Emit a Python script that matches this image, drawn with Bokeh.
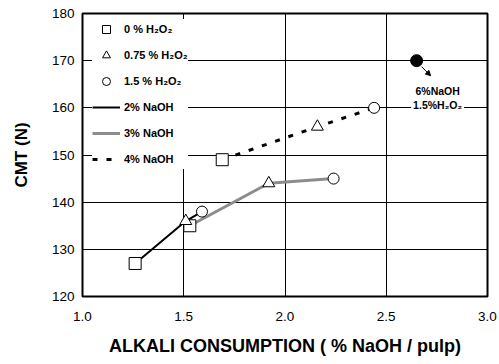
from bokeh.plotting import figure
from bokeh.models import (Range1d, FixedTicker, PrintfTickFormatter, Legend, LegendItem,
                          Label, Arrow, NormalHead)
from bokeh.embed import file_html
from bokeh.resources import INLINE

# ---- data ----
naoh_labels = ["2% NaOH", "3% NaOH", "4% NaOH"]
h2o2_labels = ["0 % H\u2082O\u2082", "0.75 % H\u2082O\u2082", "1.5 % H\u2082O\u2082"]

naoh2_x = [1.26, 1.51, 1.59]
naoh2_y = [127, 136, 138]
naoh3_x = [1.53, 1.92, 2.24]
naoh3_y = [135, 144, 145]
naoh4_x = [1.69, 2.16, 2.44]
naoh4_y = [149, 156, 160]

special_x = [2.65]
special_y = [170]
special_label = ["6%NaOH", "1.5%H\u2082O\u2082"]

x_ticks = [1.0, 1.5, 2.0, 2.5, 3.0]
y_ticks = [120, 130, 140, 150, 160, 170, 180]

FONT = "Liberation Sans"

p = figure(width=499, height=364, output_backend="svg", toolbar_location=None,
           x_range=Range1d(1.0, 3.0), y_range=Range1d(120, 180),
           min_border_left=82, min_border_right=12, min_border_top=13, min_border_bottom=68)
p.background_fill_color = "white"
p.border_fill_color = "white"
p.outline_line_color = "black"
p.outline_line_width = 2

for ax in (p.xaxis[0], p.yaxis[0]):
    ax.axis_line_color = None
    ax.major_tick_line_color = None
    ax.minor_tick_line_color = None
    ax.major_tick_out = 0
    ax.major_tick_in = 0
    ax.minor_tick_out = 0
    ax.major_label_text_font = FONT
    ax.major_label_text_font_size = "13.5px"
    ax.major_label_text_color = "black"
    ax.axis_label_text_font = FONT
    ax.axis_label_text_font_style = "bold"
    ax.axis_label_text_color = "black"

p.xaxis.ticker = FixedTicker(ticks=x_ticks)
p.xaxis.formatter = PrintfTickFormatter(format="%.1f")
p.yaxis.ticker = FixedTicker(ticks=y_ticks)
p.yaxis.formatter = PrintfTickFormatter(format="%d")
p.xaxis.axis_label = "ALKALI CONSUMPTION ( % NaOH / pulp)"
p.yaxis.axis_label = "CMT (N)"
p.xaxis.axis_label_text_font_size = "18px"
p.yaxis.axis_label_text_font_size = "17px"
p.xaxis.major_label_standoff = 15
p.xaxis.axis_label_standoff = 12
p.yaxis.major_label_standoff = 8
p.yaxis.axis_label_standoff = 18

p.xgrid.ticker = FixedTicker(ticks=x_ticks)
p.ygrid.ticker = FixedTicker(ticks=y_ticks)
for g in (p.xgrid[0], p.ygrid[0]):
    g.grid_line_color = "black"
    g.grid_line_width = 1

# ---- lines ----
l2 = p.line(naoh2_x, naoh2_y, line_color="black", line_width=2)
l3 = p.line(naoh3_x, naoh3_y, line_color="#8c8c8c", line_width=3)
l4 = p.line(naoh4_x, naoh4_y, line_color="black", line_width=3, line_dash="5 9")

# ---- markers by H2O2 level (index 0, 1, 2 of each series) ----
all_x = [naoh2_x, naoh3_x, naoh4_x]
all_y = [naoh2_y, naoh3_y, naoh4_y]
markers = ["square", "triangle", "circle"]
sizes = [12, 12, 11]
mk_renderers = []
for i, (m, s) in enumerate(zip(markers, sizes)):
    xs = [sx[i] for sx in all_x]
    ys = [sy[i] for sy in all_y]
    r = p.scatter(xs, ys, marker=m, size=s, fill_color="white", line_color="black", line_width=1)
    mk_renderers.append(r)

p.scatter(special_x, special_y, marker="circle", size=12, fill_color="black", line_color="black")

# ---- legend ----
items = [LegendItem(label=h2o2_labels[i], renderers=[mk_renderers[i]]) for i in range(3)]
items += [LegendItem(label=naoh_labels[0], renderers=[l2]),
          LegendItem(label=naoh_labels[1], renderers=[l3]),
          LegendItem(label=naoh_labels[2], renderers=[l4])]
legend = Legend(items=items, location=(10, 127), margin=0, padding=3,
                spacing=6, glyph_height=20, label_height=20, glyph_width=28,
                label_standoff=4, border_line_color=None,
                background_fill_color="white", background_fill_alpha=1.0,
                label_text_font=FONT, label_text_font_style="bold",
                label_text_font_size="11px", label_text_color="black")
p.add_layout(legend)

# ---- annotation for special point ----
dxp = 2.0 / 405.0
dyp = 60.0 / 282.0
sx0, sy0 = special_x[0], special_y[0]
p.add_layout(Arrow(x_start=sx0 + 5 * dxp, y_start=sy0 - 6 * dyp,
                   x_end=sx0 + 14 * dxp, y_end=sy0 - 15 * dyp,
                   line_color="black", line_width=1,
                   end=NormalHead(size=5, fill_color="black", line_color="black")))
lab2 = Label(x=sx0, y=sy0, x_offset=21, y_offset=-44, text=special_label[1],
             text_align="center", text_baseline="middle", text_font=FONT,
             text_font_style="bold", text_font_size="10.5px", text_color="black",
             background_fill_color="white", background_fill_alpha=1.0, padding=2)
lab1 = Label(x=sx0, y=sy0, x_offset=21, y_offset=-30, text=special_label[0],
             text_align="center", text_baseline="middle", text_font=FONT,
             text_font_style="bold", text_font_size="10.5px", text_color="black")
p.add_layout(lab2)
p.add_layout(lab1)

open("out.html", "w").write(file_html(p, INLINE))
